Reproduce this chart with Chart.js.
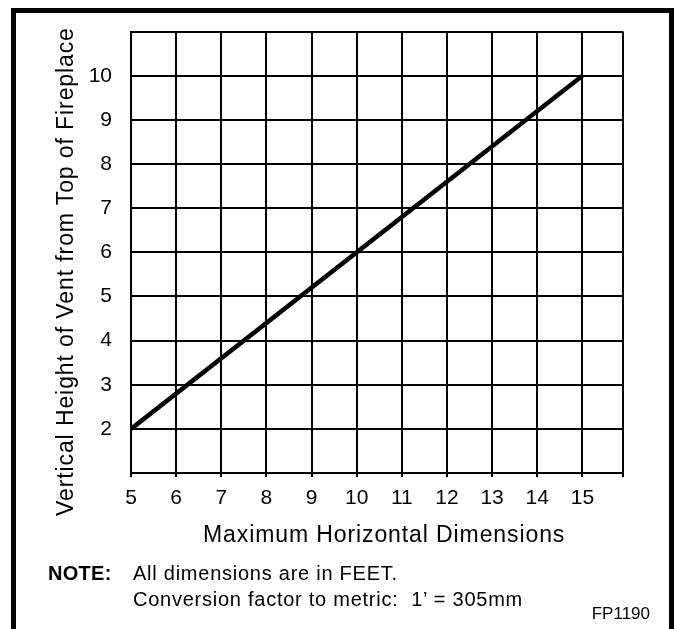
<!DOCTYPE html>
<html>
<head>
<meta charset="utf-8">
<script src="https://cdn.jsdelivr.net/npm/chart.js@4.4.1/dist/chart.umd.min.js"></script>
<style>
  html, body { margin: 0; padding: 0; background: #fff; }
  body { width: 674px; height: 629px; position: relative; overflow: hidden;
         font-family: "Liberation Sans", Arial, Helvetica, sans-serif; color: #000; }
  #wrap { position: absolute; left: 0; top: 0; width: 674px; height: 629px; }
  #frame { position: absolute; left: 11px; top: 8px; width: 663px; height: 640px;
           box-sizing: border-box; border: 5px solid #000; border-bottom: none; pointer-events: none; }
  .txt { position: absolute; white-space: nowrap; }
  #ytitle { left: 54px; top: 516px; font-size: 23px; line-height: 23px; letter-spacing: 0.9px;
            transform-origin: 0 0; transform: rotate(-90deg); }
  #xtitle { left: 203px; top: 523px; font-size: 23px; line-height: 23px; letter-spacing: 0.9px; }
  .note { font-size: 20px; line-height: 20px; letter-spacing: 0.75px; }
  #noteLbl { left: 48px; top: 563px; font-weight: bold; letter-spacing: 0.3px; }
  #note1 { left: 133px; top: 563px; }
  #note2 { left: 133px; top: 589px; }
  #fp { right: 24px; top: 605px; font-size: 17px; line-height: 17px; }
</style>
</head>
<body>
<div id="wrap"><canvas id="c" width="674" height="629"></canvas></div>
<div id="frame"></div>
<div class="txt" id="ytitle">Vertical Height of Vent from Top of Fireplace</div>
<div class="txt" id="xtitle">Maximum Horizontal Dimensions</div>
<div class="txt note" id="noteLbl">NOTE:</div>
<div class="txt note" id="note1">All dimensions are in FEET.</div>
<div class="txt note" id="note2">Conversion factor to metric:&nbsp; 1’ = 305mm</div>
<div class="txt" id="fp">FP1190</div>
<script>
// Data
const horizontalFeet = [5, 15];
const verticalFeet = [2, 10];
const xTickLabels = [5, 6, 7, 8, 9, 10, 11, 12, 13, 14, 15];
const yTickLabels = [2, 3, 4, 5, 6, 7, 8, 9, 10];
const xAxisMin = 5, xAxisMax = 15.9;
const yAxisMin = 1, yAxisMax = 11;

const points = horizontalFeet.map((x, i) => ({ x: x, y: verticalFeet[i] }));
const tickFont = { family: '"Liberation Sans", Arial, sans-serif', size: 21 };

new Chart(document.getElementById('c'), {
  type: 'line',
  data: {
    datasets: [{
      data: points,
      borderColor: '#000',
      borderWidth: 4.5,
      pointRadius: 0,
      fill: false,
      tension: 0
    }]
  },
  options: {
    responsive: false,
    animation: false,
    events: [],
    layout: { padding: { top: 29, right: 51, left: 0, bottom: 0 } },
    plugins: { legend: { display: false }, tooltip: { enabled: false } },
    scales: {
      x: {
        type: 'linear',
        min: xAxisMin,
        max: xAxisMax,
        afterFit: s => { s.height = 156; },
        afterBuildTicks: s => {
          s.ticks = xTickLabels.concat([xAxisMax]).map(v => ({ value: v }));
        },
        ticks: {
          color: '#000',
          padding: 9,
          maxRotation: 0,
          autoSkip: false,
          font: tickFont,
          callback: v => xTickLabels.includes(v) ? String(v) : ''
        },
        grid: { color: '#000', lineWidth: 2, drawTicks: true, tickLength: 4 },
        border: { display: true, color: '#000', width: 2 }
      },
      y: {
        type: 'linear',
        min: yAxisMin,
        max: yAxisMax,
        afterFit: s => { s.width = 131; },
        afterBuildTicks: s => {
          s.ticks = [yAxisMin].concat(yTickLabels, [yAxisMax]).map(v => ({ value: v }));
        },
        ticks: {
          color: '#000',
          padding: 19,
          autoSkip: false,
          font: tickFont,
          callback: v => yTickLabels.includes(v) ? String(v) : ''
        },
        grid: { color: '#000', lineWidth: 2, drawTicks: false },
        border: { display: true, color: '#000', width: 2 }
      }
    }
  }
});
</script>
</body>
</html>
